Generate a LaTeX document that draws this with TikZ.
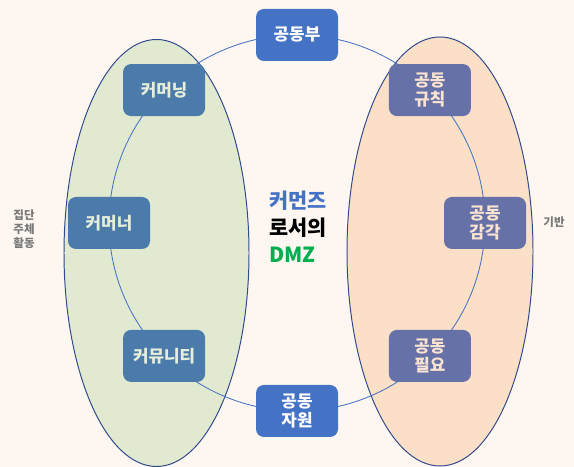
\documentclass[tikz,border=0pt]{standalone}
\usepackage{fontspec}
\setmainfont{Noto Sans CJK KR}
\usepackage{tikz}
\usetikzlibrary{positioning}

\definecolor{bgcream}{HTML}{FEF7F1}
\definecolor{hubblue}{HTML}{4472C4}
\definecolor{leftblue}{HTML}{4A7BAA}
\definecolor{rightblue}{HTML}{6672A7}
\definecolor{lefttext}{HTML}{E6EEDA}
\definecolor{righttext}{HTML}{FBE3D2}
\definecolor{greenfill}{HTML}{E2E9D1}
\definecolor{peachfill}{HTML}{FBDFC7}
\definecolor{edgeblue}{HTML}{2F4A8C}
\definecolor{sidegray}{HTML}{7A7A7A}
\definecolor{dmzgreen}{HTML}{00B050}

\begin{document}
\begin{tikzpicture}[
            scale=1,
            box/.style={rectangle, rounded corners=0.2cm, minimum width=2.05cm, minimum height=1.3cm, inner sep=1pt, align=center, font=\bfseries\fontsize{12}{13.5}\selectfont},
            hubbox/.style={box, fill=hubblue, text=white},
            leftbox/.style={box, fill=leftblue, text=lefttext},
            rightbox/.style={box, fill=rightblue, text=righttext},
            ring/.style={draw=hubblue, line width=0.6pt},
            oval/.style={draw=edgeblue, line width=0.7pt},
            side/.style={font=\bfseries\fontsize{8.2}{10}\selectfont, text=sidegray, align=center}
        ]
        % Background
        \fill[bgcream] (0,0) rectangle (14.35,11.675);
        \useasboundingbox (0,0) rectangle (14.35,11.675);

        % Two ovals
        \draw[oval, fill=greenfill] (3.9125,5.35) ellipse [x radius=2.3125, y radius=5.3375];
        \draw[oval, fill=peachfill] (11.0,5.3875) ellipse [x radius=2.325, y radius=5.3625];

        % Points on the ring
        \coordinate (p_top) at (7.425,10.8);
        \coordinate (p_upleft) at (4.102,9.423);
        \coordinate (p_left) at (2.725,6.1);
        \coordinate (p_lowleft) at (4.102,2.777);
        \coordinate (p_bottom) at (7.425,1.4);
        \coordinate (p_lowright) at (10.748,2.777);
        \coordinate (p_right) at (12.125,6.1);
        \coordinate (p_upright) at (10.748,9.423);

        % Ring
        \draw[ring] (p_top) arc[start angle=90, end angle=135, radius=4.7];
        \draw[ring] (p_upleft) arc[start angle=135, end angle=180, radius=4.7];
        \draw[ring] (p_left) arc[start angle=180, end angle=225, radius=4.7];
        \draw[ring] (p_lowleft) arc[start angle=225, end angle=270, radius=4.7];
        \draw[ring] (p_bottom) arc[start angle=270, end angle=315, radius=4.7];
        \draw[ring] (p_lowright) arc[start angle=315, end angle=360, radius=4.7];
        \draw[ring] (p_right) arc[start angle=0, end angle=45, radius=4.7];
        \draw[ring] (p_upright) arc[start angle=45, end angle=90, radius=4.7];

        % Top and bottom
        \node[hubbox] (shared) at (p_top) {공동부};
        \node[hubbox] (resource) at (p_bottom) {공동\\자원};

        % Left side - commoners
        \node[leftbox] (commoning) at (p_upleft) {커머닝};
        \node[leftbox] (commoner) at (p_left) {커머너};
        \node[leftbox] (community) at (p_lowleft) {커뮤니티};

        % Right side - base
        \node[rightbox] (rule) at (p_upright) {공동\\규칙};
        \node[rightbox] (sense) at (p_right) {공동\\감각};
        \node[rightbox] (need) at (p_lowright) {공동\\필요};

        % Middle title
        \node[align=left, font=\bfseries\fontsize{14.8}{19.2}\selectfont] (title) at (7.45,6.0)
            {\textcolor{hubblue}{커먼즈}\\로서의\\\textcolor{dmzgreen}{DMZ}};

        % Side labels
        \node[side] (subject) at (0.6,5.95) {집단\\주체\\활동};
        \node[side] (base) at (13.85,6.125) {기반};
    \end{tikzpicture}
\end{document}
